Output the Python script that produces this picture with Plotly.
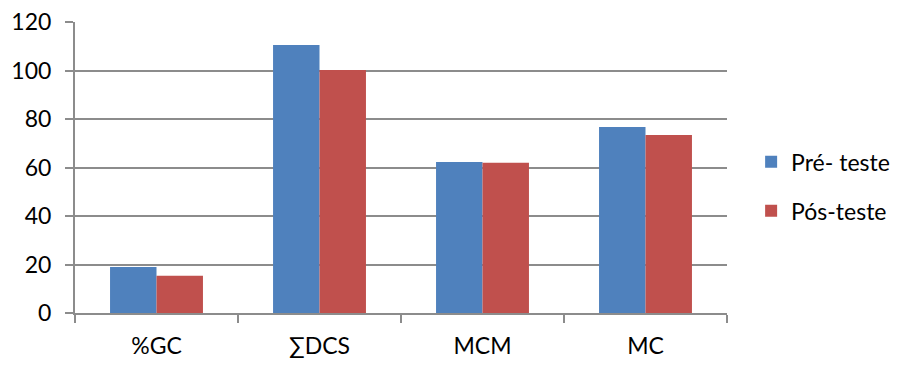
import plotly.graph_objects as go

categories = ["%GC", "∑DCS", "MCM", "MC"]
pre_teste = [19.0, 110.5, 62.3, 76.7]
pos_teste = [15.4, 100.2, 62.0, 73.4]
y_ticks = [0, 20, 40, 60, 80, 100, 120]

BLUE = "#4F81BD"
RED = "#C0504D"
GRID = "#8C8C8C"
FONT = dict(family="Lato, 'Open Sans', sans-serif", size=23, color="#000000")

fig = go.Figure()
fig.add_trace(go.Bar(name="Pré- teste", x=categories, y=pre_teste,
                     marker=dict(color=BLUE, line=dict(width=0)), legendgroup="a"))
fig.add_trace(go.Bar(name="Pós-teste", x=categories, y=pos_teste,
                     marker=dict(color=RED, line=dict(width=0)), legendgroup="b"))

fig.update_layout(
    width=901, height=367,
    margin=dict(l=75, r=174, t=22, b=54, autoexpand=False),
    paper_bgcolor="white", plot_bgcolor="white",
    font=FONT,
    barmode="group", bargap=0.43, bargroupgap=0,
    legend=dict(x=1.037, y=0.435, xanchor="left", yanchor="middle",
                tracegroupgap=16, font=FONT, itemwidth=30),
)
fig.update_xaxes(
    showline=True, linecolor=GRID, linewidth=2,
    ticks="outside", tickson="boundaries", ticklen=8, tickwidth=2, tickcolor=GRID,
    ticklabelstandoff=11, automargin=False,
    showgrid=False,
)
fig.update_yaxes(
    range=[0, 120], tickvals=y_ticks,
    showline=True, linecolor=GRID, linewidth=2,
    ticks="outside", ticklen=8, tickwidth=2, tickcolor=GRID,
    ticklabelstandoff=9, automargin=False,
    showgrid=True, gridcolor=GRID, gridwidth=2,
    zeroline=False,
)

fig.write_html("out.html")
